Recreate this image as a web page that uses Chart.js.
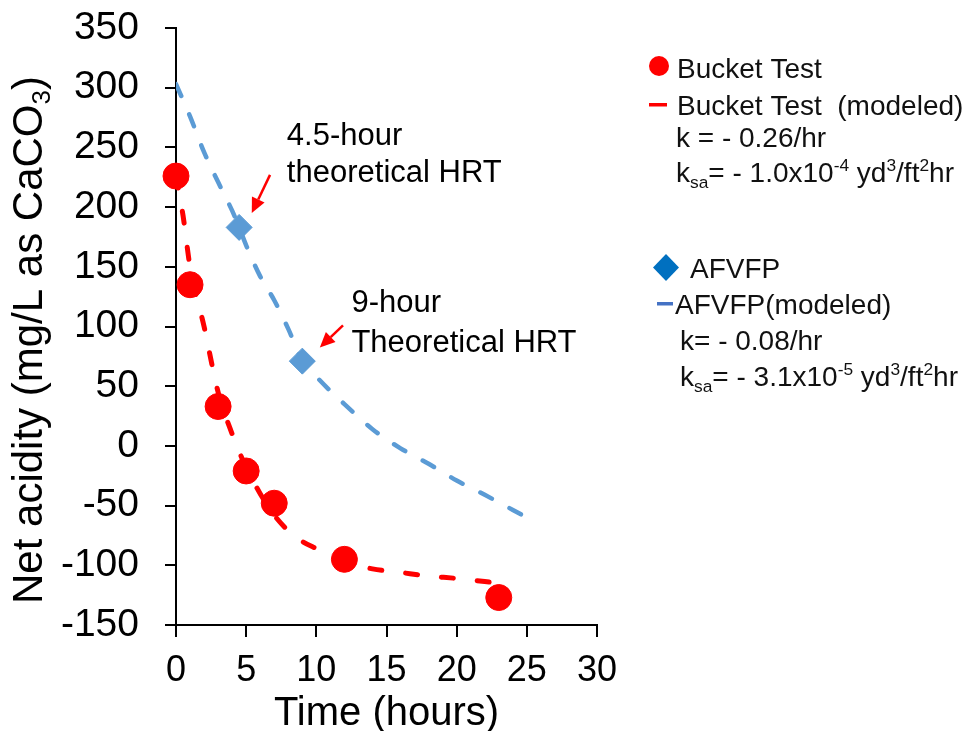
<!DOCTYPE html>
<html>
<head>
<meta charset="utf-8">
<script src="https://cdn.jsdelivr.net/npm/chart.js@4.4.0/dist/chart.umd.min.js"></script>
<style>
  body { margin: 0; background: #fff; }
</style>
</head>
<body>
<canvas id="myChart" width="979" height="731"></canvas>
<script>
// Bucket test, measured
var bucketHours = [0, 1, 3, 5, 7, 12, 23];
var bucketAcidity = [226, 135, 33, -21, -48, -95, -127];

// Bucket test, modeled
var bucketModelHours = [0, 0.5, 1, 2, 3, 4, 5, 6, 7, 8, 9, 10, 12, 14, 16, 18, 20, 23];
var bucketModelAcidity = [226, 193, 150, 100, 45, 10, -18, -40, -58, -71, -80, -86, -97, -103, -106, -109, -111, -115];

// AFVFP, measured
var afvfpHours = [4.5, 9];
var afvfpAcidity = [183, 71];

// AFVFP, modeled
var afvfpModelHours = [0, 1, 2, 3, 4, 4.5, 5, 6, 7, 8, 9, 10, 11, 12, 14, 16, 18, 20, 22, 25];
var afvfpModelAcidity = [303, 276, 246, 221, 197, 183, 168, 142, 122, 98, 71, 58, 46, 35, 14, -2, -15, -29, -41, -60];

var xTicks = [0, 5, 10, 15, 20, 25, 30];
var yTicks = [-150, -100, -50, 0, 50, 100, 150, 200, 250, 300, 350];

var RED = '#FF0000';
var BLUE = '#5B9BD5';
var FONT = '"Liberation Sans", Arial, sans-serif';

function toPoints(xs, ys) {
    return xs.map(function (x, i) { return { x: x, y: ys[i] }; });
}

// text runs with optional subscript / superscript pieces
function richWidth(ctx, parts, size) {
    var w = 0;
    parts.forEach(function (p) {
        ctx.font = (p[1] ? size * 0.62 : size) + 'px ' + FONT;
        w += ctx.measureText(p[0]).width;
    });
    return w;
}

function drawRich(ctx, x, y, parts, size) {
    ctx.textAlign = 'left';
    ctx.textBaseline = 'alphabetic';
    parts.forEach(function (p) {
        var small = p[1] ? size * 0.62 : size;
        var dy = p[1] === 'sub' ? size * 0.2 : (p[1] === 'sup' ? -size * 0.38 : 0);
        ctx.font = small + 'px ' + FONT;
        ctx.fillText(p[0], x, y + dy);
        x += ctx.measureText(p[0]).width;
    });
}

function arrow(ctx, x1, y1, x2, y2) {
    var a = Math.atan2(y2 - y1, x2 - x1);
    var head = 15, half = 7;
    var bx = x2 - head * Math.cos(a), by = y2 - head * Math.sin(a);
    ctx.strokeStyle = RED;
    ctx.fillStyle = RED;
    ctx.lineWidth = 2.5;
    ctx.beginPath();
    ctx.moveTo(x1, y1);
    ctx.lineTo(bx, by);
    ctx.stroke();
    ctx.beginPath();
    ctx.moveTo(x2, y2);
    ctx.lineTo(bx + half * Math.sin(a), by - half * Math.cos(a));
    ctx.lineTo(bx - half * Math.sin(a), by + half * Math.cos(a));
    ctx.closePath();
    ctx.fill();
}

var extras = {
    id: 'extras',
    afterDraw: function (chart) {
        var ctx = chart.ctx;
        var xs = chart.scales.x, ys = chart.scales.y;
        var px = function (v) { return xs.getPixelForValue(v); };
        var py = function (v) { return ys.getPixelForValue(v); };
        ctx.save();

        // y axis title
        var yTitle = [['Net acidity (mg/L as CaCO', ''], ['3', 'sub'], [')', '']];
        var tw = richWidth(ctx, yTitle, 42);
        ctx.save();
        ctx.translate(42, 340);
        ctx.rotate(-Math.PI / 2);
        ctx.fillStyle = '#000';
        drawRich(ctx, -tw / 2, 0, yTitle, 42);
        ctx.restore();

        // HRT notes
        ctx.fillStyle = '#000';
        ctx.font = '31px ' + FONT;
        ctx.textAlign = 'left';
        ctx.textBaseline = 'alphabetic';
        ctx.fillText('4.5-hour', px(7.9), py(252));
        ctx.fillText('theoretical HRT', px(7.9), py(221));
        ctx.fillText('9-hour', px(12.5), py(112));
        ctx.fillText('Theoretical HRT', px(12.5), py(78.5));
        arrow(ctx, px(6.7), py(227), px(5.4), py(195));
        arrow(ctx, px(11.9), py(101), px(10.25), py(82.5));

        // legend
        var ls = 28;
        ctx.fillStyle = RED;
        ctx.beginPath();
        ctx.arc(659, 66, 10, 0, Math.PI * 2);
        ctx.fill();
        ctx.fillRect(649, 103, 18, 3.5);

        ctx.fillStyle = '#0070C0';
        ctx.beginPath();
        ctx.moveTo(666, 254);
        ctx.lineTo(679, 267.5);
        ctx.lineTo(666, 281);
        ctx.lineTo(653, 267.5);
        ctx.closePath();
        ctx.fill();
        ctx.fillStyle = '#4472C4';
        ctx.fillRect(657, 302, 16, 3.5);

        ctx.fillStyle = '#111';
        drawRich(ctx, 677, 78, [['Bucket Test', '']], ls);
        drawRich(ctx, 677, 115, [['Bucket Test  (modeled)', '']], ls);
        drawRich(ctx, 676, 147, [['k = - 0.26/hr', '']], ls);
        drawRich(ctx, 676, 182, [['k', ''], ['sa', 'sub'], ['= - 1.0x10', ''], ['-4', 'sup'], [' yd', ''], ['3', 'sup'], ['/ft', ''], ['2', 'sup'], ['hr', '']], ls);
        drawRich(ctx, 690, 278, [['AFVFP', '']], ls);
        drawRich(ctx, 675, 314, [['AFVFP(modeled)', '']], ls);
        drawRich(ctx, 680, 350, [['k= - 0.08/hr', '']], ls);
        drawRich(ctx, 680, 386, [['k', ''], ['sa', 'sub'], ['= - 3.1x10', ''], ['-5', 'sup'], [' yd', ''], ['3', 'sup'], ['/ft', ''], ['2', 'sup'], ['hr', '']], ls);

        ctx.restore();
    }
};

var ctx = document.getElementById('myChart').getContext('2d');
var myChart = new Chart(ctx, {
    type: 'scatter',
    data: {
        datasets: [{
            label: 'Bucket Test',
            data: toPoints(bucketHours, bucketAcidity),
            backgroundColor: RED,
            borderColor: RED,
            pointRadius: 13,
            pointHoverRadius: 13,
            clip: false,
            order: 0
        }, {
            label: 'Bucket Test (modeled)',
            type: 'line',
            data: toPoints(bucketModelHours, bucketModelAcidity),
            borderColor: RED,
            borderWidth: 5,
            borderDash: [12, 24],
            borderCapStyle: 'round',
            cubicInterpolationMode: 'monotone',
            pointRadius: 0,
            fill: false,
            order: 1
        }, {
            label: 'AFVFP',
            data: toPoints(afvfpHours, afvfpAcidity),
            backgroundColor: BLUE,
            borderColor: BLUE,
            pointStyle: 'rectRot',
            pointRadius: 13,
            pointHoverRadius: 13,
            clip: false,
            order: 0
        }, {
            label: 'AFVFP(modeled)',
            type: 'line',
            data: toPoints(afvfpModelHours, afvfpModelAcidity),
            borderColor: BLUE,
            borderWidth: 4.5,
            borderDash: [13, 20],
            borderCapStyle: 'round',
            cubicInterpolationMode: 'monotone',
            pointRadius: 0,
            fill: false,
            order: 1
        }]
    },
    options: {
        responsive: false,
        animation: false,
        layout: {
            padding: { left: 0, top: 28, right: 382, bottom: 0 }
        },
        plugins: {
            legend: { display: false },
            tooltip: { enabled: false }
        },
        scales: {
            x: {
                type: 'linear',
                min: 0,
                max: 30,
                afterFit: function (scale) {
                    scale.height = 106;
                    scale.paddingLeft = 0;
                    scale.paddingRight = 0;
                },
                afterBuildTicks: function (scale) {
                    scale.ticks = xTicks.map(function (v) { return { value: v }; });
                },
                border: { display: true, color: '#000', width: 2 },
                grid: { display: true, drawOnChartArea: false, drawTicks: true, tickLength: 12, color: '#000', lineWidth: 2 },
                ticks: { color: '#000', padding: 12, maxRotation: 0, font: { family: FONT, size: 36 } },
                title: {
                    display: true,
                    text: 'Time (hours)',
                    color: '#000',
                    padding: { top: 0, bottom: -7 },
                    font: { family: FONT, size: 40 }
                }
            },
            y: {
                type: 'linear',
                min: -150,
                max: 350,
                afterFit: function (scale) {
                    scale.width = 176;
                    scale.paddingTop = 0;
                    scale.paddingBottom = 0;
                },
                afterBuildTicks: function (scale) {
                    scale.ticks = yTicks.map(function (v) { return { value: v }; });
                },
                border: { display: true, color: '#000', width: 2 },
                grid: { display: true, drawOnChartArea: false, drawTicks: true, tickLength: 11, color: '#000', lineWidth: 2 },
                ticks: { color: '#000', padding: 26, font: { family: FONT, size: 39 } }
            }
        }
    },
    plugins: [extras]
});
</script>
</body>
</html>
